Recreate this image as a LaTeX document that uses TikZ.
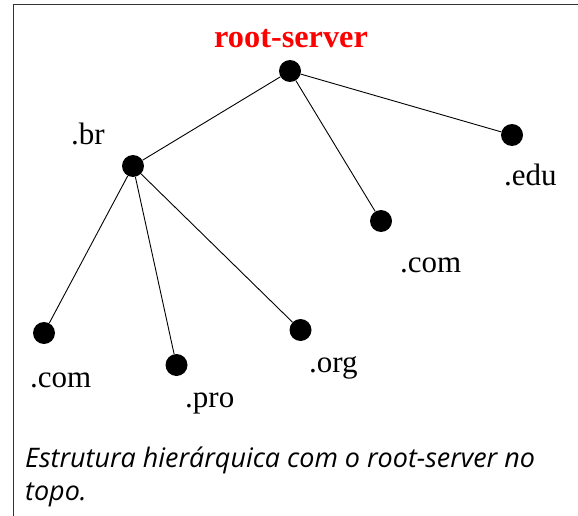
\documentclass[tikz,border=0pt]{standalone}
\usepackage{fontspec}
\setmainfont{Liberation Serif}
\newfontfamily\captionfont{Open Sans}
\begin{document}
\begin{tikzpicture}[x=1pt,y=-1pt,
  dot/.style={circle,fill=black,inner sep=0pt,minimum size=22pt},
  label/.style={anchor=base west,inner sep=0pt,font=\fontsize{31}{31}\selectfont},
  link/.style={line width=0.9pt,black}]
  \useasboundingbox (0,0) rectangle (578,516);
  % frame: left and top edges only
  \draw[line width=1pt,black!80] (13,516) -- (13,5) -- (578,5);

  % tree nodes
  \node[dot] (root) at (290,71) {};
  \node[dot] (br)   at (133,166) {};
  \node[dot] (edu)  at (512,135) {};
  \node[dot] (comr) at (381,221) {};
  \node[dot] (coml) at (44,333) {};
  \node[dot] (pro)  at (176.5,365) {};
  \node[dot] (org)  at (300.5,330) {};

  % connectors
  \draw[link] (root) -- (br);
  \draw[link] (root) -- (edu);
  \draw[link] (root) -- (comr);
  \draw[link] (br) -- (coml);
  \draw[link] (br) -- (pro);
  \draw[link] (br) -- (org);

  % labels
  \node[label,font=\fontsize{32.3}{32}\selectfont\bfseries,text={rgb,255:red,255;green,0;blue,0}] (lroot) at (214,48) {root-server};
  \node[label] (lbr)   at (71,145) {.br};
  \node[label] (ledu)  at (504,185) {.edu};
  \node[label] (lcomr) at (400,272) {.com};
  \node[label] (lcoml) at (30,387) {.com};
  \node[label] (lpro)  at (185,407) {.pro};
  \node[label] (lorg)  at (309,372) {.org};

  % caption, two lines
  \node[anchor=base west,inner sep=0pt,
        font=\captionfont\itshape\fontsize{26.9}{33}\selectfont] (cap1) at (25,467)
        {Estrutura hierárquica com o root-server no};
  \node[anchor=base west,inner sep=0pt,
        font=\captionfont\itshape\fontsize{26.9}{33}\selectfont] (cap2) at (25,500)
        {topo.};
\end{tikzpicture}
\end{document}
